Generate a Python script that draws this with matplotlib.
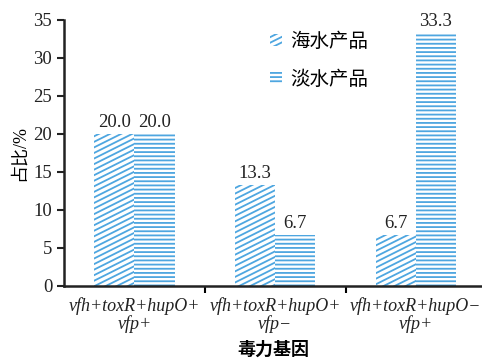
import numpy as np
import matplotlib.pyplot as plt
import matplotlib.hatch as mhatch
from matplotlib.path import Path
from matplotlib.patches import Patch

plt.rcParams['font.family'] = ['Liberation Serif', 'Noto Sans CJK SC']
plt.rcParams['hatch.linewidth'] = 1.3


class ShallowNorthEastHatch(mhatch.HatchPatternBase):
    """'/' hatch drawn at a shallow slope (rise 1 per run 2)."""

    def __init__(self, hatch, density):
        n = int(hatch.count('/') * density)
        self.num_lines = n + (n % 2)
        self.num_vertices = (self.num_lines * 3 // 2 + 1) * 2 if n else 0

    def set_vertices_and_codes(self, vertices, codes):
        n = self.num_lines
        offsets = np.arange(-n // 2, n + 1) / n
        vertices[0::2, 0] = 0.0
        vertices[0::2, 1] = offsets
        vertices[1::2, 0] = 1.0
        vertices[1::2, 1] = offsets + 0.5
        codes[0::2] = Path.MOVETO
        codes[1::2] = Path.LINETO


mhatch._hatch_types = [ShallowNorthEastHatch if t is mhatch.NorthEastHatch else t
                       for t in mhatch._hatch_types]

# 毒力基因组合 / 占比
genes_line1 = ['vfh+toxR+hupO+', 'vfh+toxR+hupO+', 'vfh+toxR+hupO\u2212']
genes_line2 = ['vfp+', 'vfp\u2212', 'vfp+']
seawater = [20.0, 13.3, 6.7]
freshwater = [20.0, 6.7, 33.3]
series_names = ['海水产品', '淡水产品']
yticks = [0, 5, 10, 15, 20, 25, 30, 35]

blue = '#4ea6e0'
cjk = ['Noto Sans CJK SC', 'DejaVu Sans']

fig = plt.figure(figsize=(4.82, 3.62), dpi=100)
ax = fig.add_axes([0.133, 0.21, 0.867, 0.735])

x = np.arange(len(seawater))
w = 0.285
b1 = ax.bar(x - w / 2, seawater, w, color='white', edgecolor=blue,
            hatch='///', linewidth=0)
b2 = ax.bar(x + w / 2, freshwater, w, color='white', edgecolor=blue,
            hatch='----', linewidth=0)

for bars, vals in [(b1, seawater), (b2, freshwater)]:
    for r, v in zip(bars, vals):
        ax.text(r.get_x() + r.get_width() / 2, v + 0.4, f'{v:.1f}',
                ha='center', va='bottom', fontsize=13.5, color='#222222')

ax.set_xlim(-0.5, 2.47)
ax.set_ylim(0, 35)
ax.set_yticks(yticks)
ax.tick_params(axis='y', labelsize=13.5, width=1.5, length=5, colors='#222222')

ax.set_xticks(x)
ax.set_xticklabels([f'{a}\n{b}' for a, b in zip(genes_line1, genes_line2)],
                   fontsize=13, style='italic', linespacing=1.0)
ax.tick_params(axis='x', length=0, pad=8, colors='#222222')
ax.set_xticks([0.5, 1.5], minor=True)
ax.tick_params(axis='x', which='minor', length=5, width=1.5)

for s in ['top', 'right']:
    ax.spines[s].set_visible(False)
for s in ['left', 'bottom']:
    ax.spines[s].set_linewidth(1.8)
    ax.spines[s].set_color('#222222')

ax.set_ylabel('占比/%', fontsize=13, labelpad=4)
ax.set_xlabel('毒力基因', fontsize=13, family=cjk, fontweight='bold', labelpad=5)

handles = [Patch(facecolor='white', edgecolor=blue, hatch='///', linewidth=0),
           Patch(facecolor='white', edgecolor=blue, hatch='----', linewidth=0)]
ax.legend(handles, series_names, loc='upper left', bbox_to_anchor=(0.47, 0.995),
          frameon=False, borderpad=0, handlelength=0.6, handleheight=0.6,
          handletextpad=0.45, labelspacing=0.85,
          prop={'family': cjk, 'size': 14})

fig.savefig('out.png', dpi=100)
